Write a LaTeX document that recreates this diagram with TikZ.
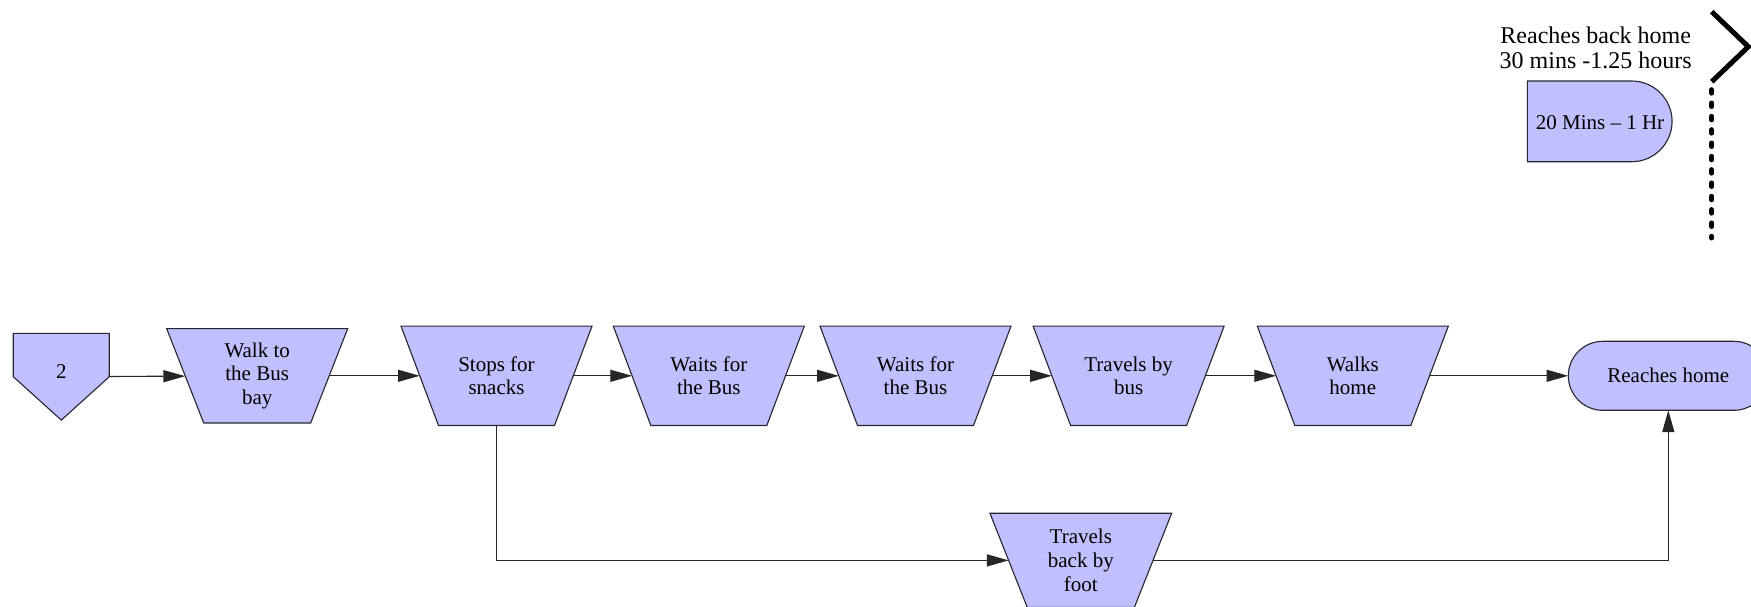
\documentclass[tikz,border=0pt]{standalone}
\usepackage{fontspec}
\setmainfont{Liberation Serif}
\usetikzlibrary{arrows.meta,backgrounds}
\definecolor{lav}{RGB}{192,192,255}
\definecolor{edge}{RGB}{40,40,50}
\tikzset{
  trapfill/.style={fill=lav, draw=edge, line width=0.45pt, line join=miter},
  tbox/.style={rectangle, draw=none, inner sep=0pt, outer sep=0pt, align=center, font=\fontsize{8.4}{9.5}\selectfont},
  arr/.style={-{Triangle[length=8.7pt,width=4.8pt]}, line width=0.45pt, draw=black!85},
  thickline/.style={line width=2pt, draw=black}
}
\newcommand{\mytrap}[7]{%
  \filldraw[trapfill] ({#2-(#4)/2},{#3-(#6)/2}) -- ({#2+(#4)/2},{#3-(#6)/2}) -- ({#2+(#5)/2},{#3+(#6)/2}) -- ({#2-(#5)/2},{#3+(#6)/2}) -- cycle;
  \node[tbox, minimum width={((#4)+(#5))*0.2pt}, minimum height={(#6)*0.4pt}] (#1) at (#2,#3) {#7};
}
\begin{document}
\begin{tikzpicture}[x=0.4pt, y=-0.4pt]
\useasboundingbox (0,0) rectangle (1751,606);
\clip (0,0) rectangle (1751,606);

% start pentagon
\node[tbox, minimum width=38.4pt, minimum height=34.7pt] (p) at (61.3,376.7) {\raisebox{4pt}{2}};
\begin{scope}[on background layer]
\filldraw[trapfill] (p.north west) -- (p.north east) -- (p.east) -- (p.south) -- (p.west) -- cycle;
\end{scope}

% trapezoid steps
\mytrap{t1}{257.2}{375.8}{181}{107}{94.3}{Walk to\\the Bus\\bay}
\mytrap{t2}{496.5}{375.8}{191}{116}{99.3}{Stops for\\snacks}
\mytrap{t3}{708.8}{375.8}{191}{116}{99.3}{Waits for\\the Bus}
\mytrap{t4}{915.5}{375.8}{191}{116}{99.3}{Waits for\\the Bus}
\mytrap{t5}{1128.6}{375.8}{191}{116}{99.3}{Travels by\\bus}
\mytrap{t6}{1352.8}{375.8}{191}{116}{99.3}{Walks\\home}
\mytrap{t7}{1080.8}{560.4}{181.7}{107}{94.3}{Travels\\back by\\foot}

% end terminator
\node[tbox, fill=lav, draw=edge, line width=0.45pt, rounded corners=13.8pt, minimum width=80pt, minimum height=27.6pt] (r) at (1668.3,375.8) {Reaches home};

% delay shape
\filldraw[trapfill] (1527.3,81) -- (1631.7,81) arc[start angle=90, end angle=-90, radius=16.14pt] -- (1527.3,161.7) -- cycle;
\node[tbox] (d) at (1600,122.7) {20 Mins – 1 Hr};

% annotation
\node[tbox, font=\fontsize{9.6}{10}\selectfont] (note) at (1595.7,47.5) {Reaches back home\\30 mins -1.25 hours};

% chevron and dotted timeline
\coordinate (c1) at (1711.7,11.7);
\coordinate (c2) at (1748.3,46.7);
\coordinate (c3) at (1711.7,81.7);
\coordinate (c4) at (1711.7,238);
\draw[thickline, line join=miter] (c1) -- (c2) -- (c3);
\draw[thickline, line cap=round, dash pattern=on 1.4pt off 3.93pt] ([yshift=-3.2pt]c3) -- (c4);

% connectors
\draw[arr] (p) -- (t1);
\draw[arr] (t1) -- (t2);
\draw[arr] (t2) -- (t3);
\draw[arr] (t3) -- (t4);
\draw[arr] (t4) -- (t5);
\draw[arr] (t5) -- (t6);
\draw[arr] (t6) -- (r);
\draw[arr] (t2.south) |- (t7);
\draw[arr] (t7) -| (r.south);
\end{tikzpicture}
\end{document}
